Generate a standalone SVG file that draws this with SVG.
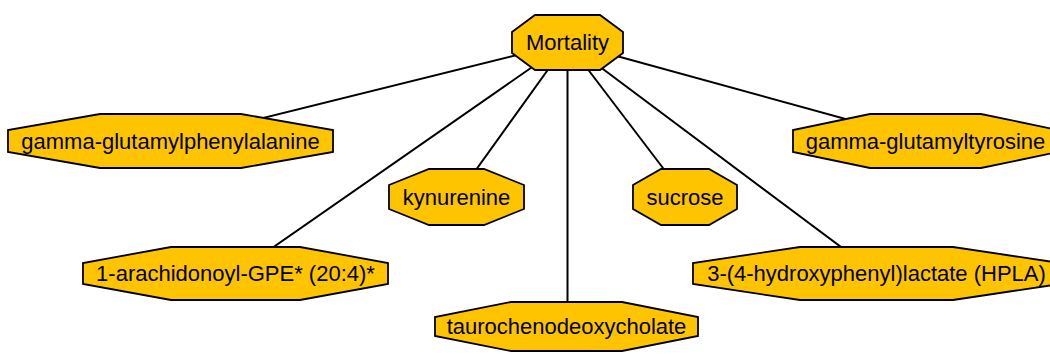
<svg xmlns="http://www.w3.org/2000/svg" width="1050" height="354" viewBox="0 0 1050 354">
<style>
.n{fill:#FFC400;stroke:#000;stroke-width:1.8;}
.t{font-family:"Liberation Sans",Arial,sans-serif;font-size:22px;fill:#000;text-anchor:middle;}
.e{stroke:#000;stroke-width:2;fill:none;}
</style>
<rect width="1050" height="354" fill="#fff"/>
<g id="edges">
<line class="e" x1="567.5" y1="42.5" x2="170.5" y2="141"/>
<line class="e" x1="567.5" y1="42.5" x2="235.5" y2="273.5"/>
<line class="e" x1="567.5" y1="42.5" x2="456.5" y2="197"/>
<line class="e" x1="567.5" y1="42.5" x2="567.5" y2="326"/>
<line class="e" x1="567.5" y1="42.5" x2="685" y2="197"/>
<line class="e" x1="567.5" y1="42.5" x2="876.5" y2="273.5"/>
<line class="e" x1="567.5" y1="42.5" x2="925.5" y2="141"/>
</g>
<g id="mortality">
<polygon class="n" points="535,15 600,15 623,32 623,53 600,70 535,70 512,53 512,32"/>
<text class="t" x="567.5" y="50">Mortality</text>
</g>
<g id="ggphe">
<polygon class="n" points="100,114 241,114 333,130 333,152 241,168 100,168 8,152 8,130"/>
<text class="t" x="170.5" y="149">gamma-glutamylphenylalanine</text>
</g>
<g id="ggtyr">
<polygon class="n" points="870,114 981,114 1058,130 1058,152 981,168 870,168 793,152 793,130"/>
<text class="t" x="925.5" y="149">gamma-glutamyltyrosine</text>
</g>
<g id="kynurenine">
<polygon class="n" points="429,169 484,169 524,185 524,209 484,225 429,225 389,209 389,185"/>
<text class="t" x="456.5" y="205">kynurenine</text>
</g>
<g id="sucrose">
<polygon class="n" points="661,169 709,169 737,185 737,209 709,225 661,225 633,209 633,185"/>
<text class="t" x="685" y="205">sucrose</text>
</g>
<g id="arach">
<polygon class="n" points="171,247 300,247 388,263 388,284 300,300 171,300 83,284 83,263"/>
<text class="t" x="235.5" y="281">1-arachidonoyl-GPE* (20:4)*</text>
</g>
<g id="hpla">
<polygon class="n" points="800,247 953,247 1060,263 1060,284 953,300 800,300 693,284 693,263"/>
<text class="t" x="876.5" y="281">3-(4-hydroxyphenyl)lactate (HPLA)</text>
</g>
<g id="tauro">
<polygon class="n" points="511,302 622,302 698,317 698,336 622,351 511,351 435,336 435,317"/>
<text class="t" x="566.5" y="334">taurochenodeoxycholate</text>
</g>
</svg>
